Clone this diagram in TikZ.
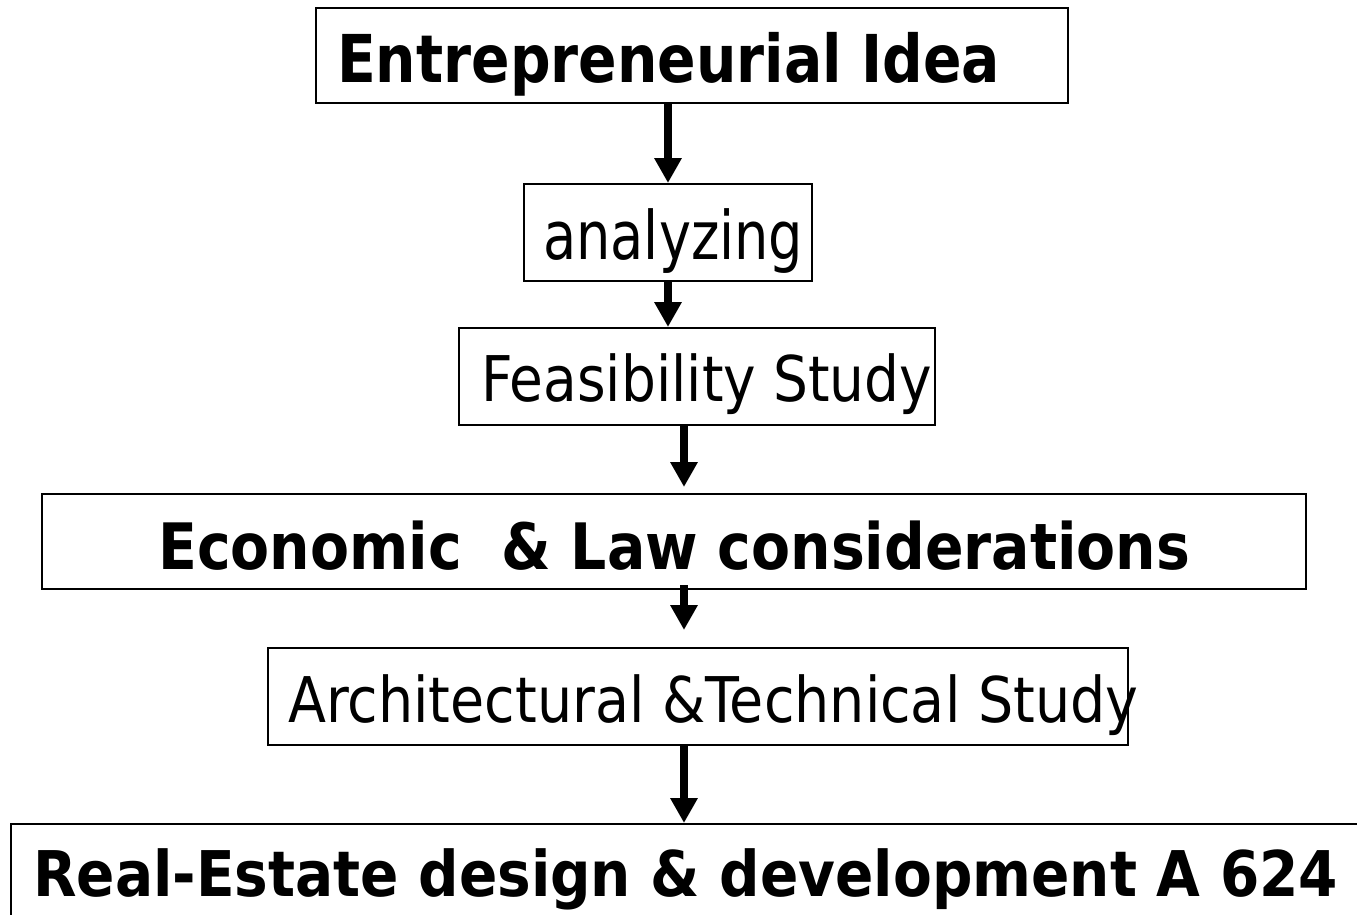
\documentclass[tikz,border=0pt]{standalone}
\usepackage{graphicx}
\usepackage{fontspec}
\setmainfont{DejaVu Sans}
\usetikzlibrary{arrows.meta}
\begin{document}
\begin{tikzpicture}[x=1pt,y=-1pt,
  box/.style={draw, line width=2pt, inner sep=0pt, rectangle, anchor=north west},
  lab/.style={anchor=base west, inner sep=0pt},
  arr/.style={line width=8pt, -{Triangle[length=25pt,width=26pt]}}]
\useasboundingbox (0,0) rectangle (1357,915);
% boxes
\node[box, minimum width=752pt, minimum height=95pt] (b1) at (315,7) {};
\node[box, minimum width=288pt, minimum height=97pt] (b2) at (523,183) {};
\node[box, minimum width=476pt, minimum height=97pt] (b3) at (458,327) {};
\node[box, minimum width=1264pt, minimum height=95pt] (b4) at (41,493) {};
\node[box, minimum width=860pt, minimum height=97pt] (b5) at (267,647) {};
\node[box, minimum width=1400pt, minimum height=150pt] (b6) at (10,823) {};
% texts
\node[lab] (t1) at (337,83) {\resizebox{663pt}{\height}{\fontsize{66}{66}\selectfont\bfseries Entrepreneurial Idea}};
\node[lab] (t2) at (543,259) {\resizebox{260pt}{\height}{\fontsize{67}{67}\selectfont analyzing}};
\node[lab] (t3) at (481,401) {\resizebox{451pt}{\height}{\fontsize{63}{63}\selectfont Feasibility Study}};
\node[lab] (t4) at (158,569) {\resizebox{1032pt}{\height}{\fontsize{64}{64}\selectfont\bfseries Economic~ \& Law considerations}};
\node[lab] (t5) at (288,722) {\resizebox{850pt}{\height}{\fontsize{63}{63}\selectfont Architectural \&Technical Study}};
\node[lab] (t6) at (33,896) {\resizebox{1305pt}{\height}{\fontsize{63}{63}\selectfont\bfseries Real-Estate design \& development A 624}};
% connectors
\draw[arr] (b1.south -| b2.north) -- (b2.north);
\draw[arr] (b2.south) -- (b2.south |- b3.north);
\draw[arr, shorten >=6pt] ([xshift=-13pt]b3.south) -- ([xshift=-13pt]b3.south |- b4.north);
\draw[arr, shorten <=-5pt, shorten >=17pt] ([xshift=10pt]b4.south) -- ([xshift=10pt]b4.south |- b5.north);
\draw[arr] ([xshift=-14pt]b5.south) -- ([xshift=-14pt]b5.south |- b6.north);
\end{tikzpicture}
\end{document}
